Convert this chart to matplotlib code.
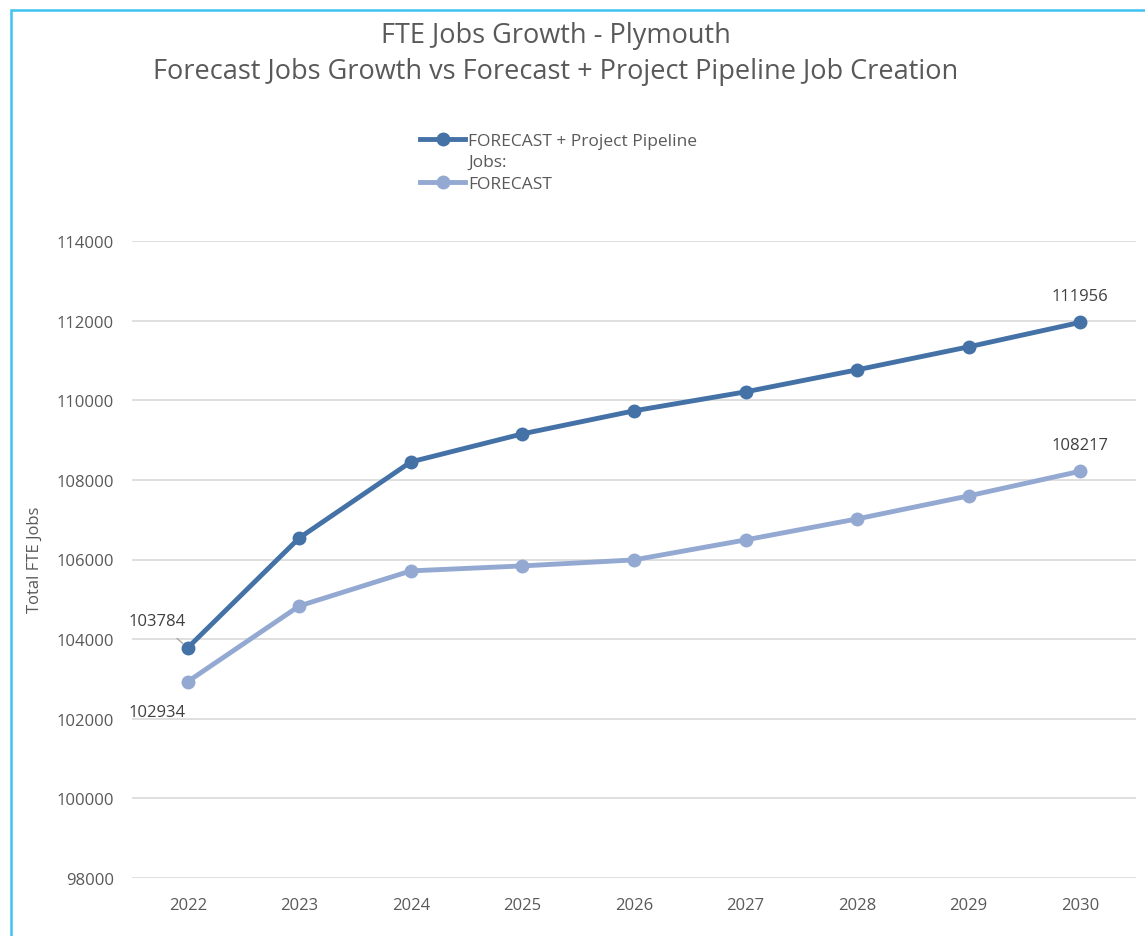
import matplotlib
matplotlib.use("Agg")
import matplotlib.pyplot as plt
from matplotlib.patches import Rectangle
from matplotlib.lines import Line2D

years = ["2022", "2023", "2024", "2025", "2026", "2027", "2028", "2029", "2030"]
pipeline = [103784, 106543, 108452, 109156, 109734, 110211, 110764, 111342, 111956]
forecast = [102934, 104834, 105714, 105839, 105990, 106492, 107020, 107598, 108217]
yticks = [98000, 100000, 102000, 104000, 106000, 108000, 110000, 112000, 114000]
series_names = ["FORECAST + Project Pipeline\nJobs:", "FORECAST"]

plt.rcParams['font.family'] = ['Open Sans', 'DejaVu Sans']
txt = '#595959'
dark = '#4472A6'
light = '#93A9D2'

W, H = 1145, 937
fig = plt.figure(figsize=(W / 100, H / 100), dpi=100)
fig.patches.append(Rectangle((11/W, -0.1), 1.2, 1 - 11/H + 0.1, transform=fig.transFigure,
                             fill=False, edgecolor='#3EC3F0', linewidth=1.8))

ax = fig.add_axes([132/W, 58/H, 1004/W, 637/H])
x = list(range(len(years)))
ax.plot(x, pipeline, color=dark, lw=3.5, marker='o', ms=9, zorder=3)
ax.plot(x, forecast, color=light, lw=3.5, marker='o', ms=9, zorder=3)

ax.set_xlim(-0.5, len(years) - 0.5)
ax.set_ylim(98000, 114000)
ax.set_yticks(yticks)
ax.set_yticklabels([str(v) for v in yticks])
ax.set_xticks(x)
ax.set_xticklabels(years)
ax.grid(axis='y', color='#D9D9D9', lw=1.2)
ax.set_axisbelow(True)
for s in ax.spines.values():
    s.set_visible(False)
ax.tick_params(length=0, labelsize=12, colors=txt, pad=14)
ax.tick_params(axis='y', pad=13)
fig.text(35/W, 1 - 560/H, "Total FTE Jobs", fontsize=12, color=txt, rotation=90,
         ha='center', va='center')

# data labels
lab = dict(fontsize=12, color='#404040', ha='center', va='center', textcoords='offset points')
ax.annotate(str(pipeline[0]), xy=(x[0], pipeline[0]), xytext=(-22, 19),
            arrowprops=dict(arrowstyle='-', color='#A6A6A6', lw=1, shrinkA=7, shrinkB=5), **lab)
ax.annotate(str(forecast[0]), xy=(x[0], forecast[0]), xytext=(-22, -22), **lab)
ax.annotate(str(pipeline[-1]), xy=(x[-1], pipeline[-1]), xytext=(0, 19), **lab)
ax.annotate(str(forecast[-1]), xy=(x[-1], forecast[-1]), xytext=(0, 19), **lab)

fig.text(556/W, 1 - 36/H, "FTE Jobs Growth - Plymouth", fontsize=19.5, color=txt, ha='center', va='center')
fig.text(556/W, 1 - 72/H, "Forecast Jobs Growth vs Forecast + Project Pipeline Job Creation",
         fontsize=19.5, color=txt, ha='center', va='center')

# legend (Excel-style, handle aligned with first text line)
for name, col, yy in [(series_names[0], dark, 140), (series_names[1], light, 183)]:
    fig.add_artist(Line2D([420/W, 465/W], [1 - yy/H, 1 - yy/H], transform=fig.transFigure,
                          color=col, lw=3.5))
    fig.add_artist(Line2D([443/W], [1 - yy/H], transform=fig.transFigure, color=col,
                          marker='o', ms=9, lw=0))
    fig.text(468/W, 1 - (yy - 6)/H, name, fontsize=12.5, color=txt, ha='left', va='top',
             linespacing=1.4)

fig.savefig("out.png", dpi=100)
